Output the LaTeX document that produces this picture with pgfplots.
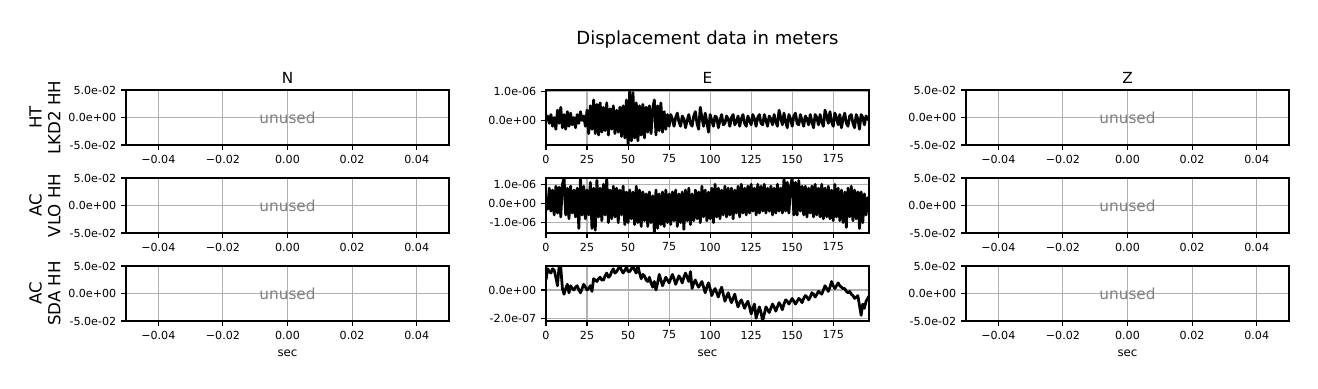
\documentclass[border=0pt]{standalone}
\usepackage{pgfplots}
\pgfplotsset{compat=1.18}
\usepackage{pgfplotstable}
\usepackage{fontspec}
\setmainfont{DejaVu Sans}
\definecolor{gridgray}{RGB}{176,176,176}
\definecolor{unusedgray}{RGB}{128,128,128}

% Row 1, E component (units of 1e-6 m)
\pgfplotstableread[row sep=\\]{
t v\\
0 0.0\\ 1 0.15\\ 2 -0.1\\ 3 0.2\\ 4 -0.2\\ 5 0.1\\ 6 -0.3\\ 7 0.35\\ 8 -0.1\\ 9 0.45\\
10 -0.25\\ 11 0.2\\ 12 -0.3\\ 13 0.3\\ 14 -0.2\\ 15 0.25\\ 16 -0.15\\ 17 0.1\\ 18 -0.25\\ 19 0.2\\
20 -0.1\\ 21 0.3\\ 22 0.0\\ 23 0.15\\ 24 -0.2\\ 25 0.35\\ 26 -0.45\\ 27 0.5\\ 28 -0.3\\ 29 0.7\\
30 -0.45\\ 31 0.55\\ 32 -0.5\\ 33 0.6\\ 34 -0.4\\ 35 0.45\\ 36 -0.35\\ 37 0.6\\ 38 -0.5\\ 39 0.4\\
40 -0.3\\ 41 0.5\\ 42 -0.45\\ 43 0.35\\ 44 -0.4\\ 45 0.45\\ 46 -0.55\\ 47 0.5\\ 48 -0.6\\ 49 0.7\\
50 -0.84\\ 51 1.04\\ 52 -0.7\\ 53 0.95\\ 54 -0.6\\ 55 0.6\\ 56 -0.7\\ 57 0.5\\ 58 -0.5\\ 59 0.55\\
60 -0.6\\ 61 0.45\\ 62 -0.4\\ 63 0.5\\ 64 -0.45\\ 65 0.4\\ 66 0.7\\ 67 -0.5\\ 68 0.5\\ 69 -0.35\\
70 0.6\\ 71 -0.4\\ 72 0.3\\ 73 -0.3\\ 74 0.2\\ 75 -0.2\\ 76 0.2\\ 77 0.05\\ 78 -0.2\\ 79 0.1\\
80 0.25\\ 81 -0.05\\ 82 -0.2\\ 83 0.15\\ 84 0.05\\ 85 -0.25\\ 86 0.0\\ 87 0.2\\ 88 -0.1\\ 89 -0.2\\
90 0.15\\ 91 0.3\\ 92 -0.1\\ 93 -0.3\\ 94 0.45\\ 95 0.1\\ 96 -0.2\\ 97 0.25\\ 98 -0.05\\ 99 -0.4\\
100 0.2\\ 101 0.0\\ 102 -0.2\\ 103 0.15\\ 104 0.1\\ 105 -0.25\\ 106 0.0\\ 107 0.2\\ 108 -0.15\\ 109 -0.1\\
110 0.15\\ 111 0.05\\ 112 -0.2\\ 113 0.1\\ 114 0.2\\ 115 -0.15\\ 116 -0.05\\ 117 0.15\\ 118 -0.2\\ 119 0.05\\
120 0.2\\ 121 -0.1\\ 122 -0.2\\ 123 0.15\\ 124 0.0\\ 125 -0.15\\ 126 0.2\\ 127 0.05\\ 128 -0.2\\ 129 0.1\\
130 0.2\\ 131 -0.1\\ 132 -0.15\\ 133 0.2\\ 134 0.0\\ 135 -0.2\\ 136 0.15\\ 137 0.05\\ 138 -0.15\\ 139 0.2\\
140 -0.05\\ 141 -0.2\\ 142 0.35\\ 143 0.1\\ 144 -0.15\\ 145 0.25\\ 146 -0.05\\ 147 -0.25\\ 148 0.2\\ 149 0.05\\
150 -0.2\\ 151 0.15\\ 152 0.25\\ 153 -0.1\\ 154 -0.15\\ 155 0.2\\ 156 0.0\\ 157 -0.2\\ 158 0.15\\ 159 0.05\\
160 -0.15\\ 161 0.2\\ 162 -0.05\\ 163 -0.25\\ 164 0.2\\ 165 0.1\\ 166 -0.15\\ 167 0.2\\ 168 -0.05\\ 169 -0.2\\
170 0.35\\ 171 0.15\\ 172 -0.1\\ 173 0.3\\ 174 -0.05\\ 175 -0.2\\ 176 0.25\\ 177 0.1\\ 178 -0.15\\ 179 0.2\\
180 -0.25\\ 181 0.05\\ 182 0.25\\ 183 -0.1\\ 184 -0.2\\ 185 0.15\\ 186 0.2\\ 187 -0.1\\ 188 -0.25\\ 189 0.2\\
190 0.05\\ 191 -0.3\\ 192 0.2\\ 193 0.1\\ 194 -0.15\\ 195 0.15\\ 196 0.05\\ 197 0.0\\
}\rowone

% Row 2, E component (units of 1e-6 m)
\pgfplotstableread[row sep=\\]{
t v\\
0 0.3\\ 1 -0.3\\ 2 0.8\\ 3 -0.4\\ 4 0.7\\ 5 -0.6\\ 6 0.9\\ 7 -0.5\\ 8 0.85\\ 9 -0.7\\
10 1.0\\ 11 1.33\\ 12 -0.6\\ 13 0.8\\ 14 -0.8\\ 15 0.9\\ 16 -0.5\\ 17 0.7\\ 18 -0.7\\ 19 0.8\\
20 -1.3\\ 21 1.3\\ 22 -0.6\\ 23 0.9\\ 24 -0.8\\ 25 0.7\\ 26 -0.6\\ 27 1.1\\ 28 -1.3\\ 29 0.8\\
30 -1.4\\ 31 1.2\\ 32 -0.7\\ 33 0.8\\ 34 -0.9\\ 35 1.0\\ 36 -0.6\\ 37 1.33\\ 38 -1.0\\ 39 0.7\\
40 -0.8\\ 41 0.9\\ 42 -0.7\\ 43 0.8\\ 44 -1.0\\ 45 0.7\\ 46 -0.6\\ 47 0.9\\ 48 -1.1\\ 49 0.6\\
50 -1.0\\ 51 0.7\\ 52 -0.8\\ 53 0.6\\ 54 -1.1\\ 55 0.9\\ 56 -1.0\\ 57 0.7\\ 58 -1.2\\ 59 0.6\\
60 -0.9\\ 61 0.5\\ 62 -1.2\\ 63 0.6\\ 64 -1.0\\ 65 0.4\\ 66 -1.54\\ 67 0.7\\ 68 -1.3\\ 69 0.5\\
70 -1.1\\ 71 0.6\\ 72 -1.2\\ 73 0.7\\ 74 -1.0\\ 75 0.5\\ 76 -1.1\\ 77 0.6\\ 78 -0.9\\ 79 0.7\\
80 -1.2\\ 81 0.5\\ 82 -1.0\\ 83 0.6\\ 84 -1.35\\ 85 0.7\\ 86 -0.9\\ 87 0.8\\ 88 -1.1\\ 89 0.5\\
90 -0.9\\ 91 0.7\\ 92 -0.8\\ 93 0.6\\ 94 -1.0\\ 95 0.9\\ 96 -0.7\\ 97 0.7\\ 98 -0.9\\ 99 0.6\\
100 -0.8\\ 101 0.8\\ 102 -1.0\\ 103 1.0\\ 104 -0.7\\ 105 0.8\\ 106 -0.8\\ 107 0.7\\ 108 -0.6\\ 109 0.9\\
110 -0.7\\ 111 0.8\\ 112 -0.6\\ 113 0.8\\ 114 -0.8\\ 115 0.7\\ 116 -0.5\\ 117 0.9\\ 118 -0.7\\ 119 1.0\\
120 -0.5\\ 121 0.8\\ 122 -0.6\\ 123 0.9\\ 124 -0.5\\ 125 1.0\\ 126 -0.4\\ 127 0.8\\ 128 -0.6\\ 129 1.0\\
130 -0.5\\ 131 0.9\\ 132 -0.4\\ 133 1.0\\ 134 -0.5\\ 135 0.8\\ 136 -0.4\\ 137 0.9\\ 138 -0.6\\ 139 0.8\\
140 -0.5\\ 141 1.0\\ 142 -0.4\\ 143 0.8\\ 144 -0.5\\ 145 1.33\\ 146 -0.4\\ 147 1.1\\ 148 -0.5\\ 149 0.9\\
150 1.33\\ 151 -0.6\\ 152 1.1\\ 153 -0.6\\ 154 1.2\\ 155 -0.4\\ 156 0.9\\ 157 -0.6\\ 158 0.9\\ 159 -0.7\\
160 0.8\\ 161 -0.5\\ 162 0.9\\ 163 -0.7\\ 164 1.0\\ 165 -0.6\\ 166 0.8\\ 167 -0.7\\ 168 1.0\\ 169 -0.8\\
170 0.8\\ 171 -0.7\\ 172 0.9\\ 173 -0.8\\ 174 0.7\\ 175 -0.9\\ 176 1.0\\ 177 -0.7\\ 178 0.8\\ 179 -0.9\\
180 0.7\\ 181 -1.0\\ 182 0.6\\ 183 -1.25\\ 184 0.8\\ 185 -0.7\\ 186 0.9\\ 187 -0.9\\ 188 0.7\\ 189 -0.8\\
190 0.6\\ 191 -1.3\\ 192 0.6\\ 193 -1.0\\ 194 0.5\\ 195 -0.6\\ 196 0.3\\ 197 -0.2\\
}\rowtwo

% Row 3, E component (units of 1e-7 m)
\pgfplotstableread[row sep=\\]{
t v\\
0 0.7\\ 1 1.5\\ 2 1.3\\ 3 1.2\\ 4 1.5\\ 5 1.4\\ 6 0.9\\ 7 0.3\\ 8 1.7\\ 9 1.6\\
10 0.1\\ 11 -0.3\\ 12 0.1\\ 13 0.4\\ 14 -0.2\\ 15 0.3\\ 16 0.1\\ 17 0.0\\ 18 0.2\\ 19 0.3\\
20 0.0\\ 21 -0.2\\ 22 0.1\\ 23 0.4\\ 24 0.2\\ 25 0.0\\ 26 0.1\\ 27 0.3\\ 28 -0.1\\ 29 0.8\\
30 0.7\\ 31 0.6\\ 32 0.8\\ 33 0.9\\ 34 0.7\\ 35 0.7\\ 36 1.0\\ 37 1.2\\ 38 0.9\\ 39 1.0\\
40 1.3\\ 41 1.5\\ 42 1.2\\ 43 1.3\\ 44 1.5\\ 45 1.7\\ 46 1.4\\ 47 1.2\\ 48 1.4\\ 49 1.6\\
50 1.3\\ 51 1.3\\ 52 1.5\\ 53 1.7\\ 54 1.4\\ 55 1.2\\ 56 1.7\\ 57 1.2\\ 58 0.8\\ 59 1.1\\
60 1.0\\ 61 0.7\\ 62 0.6\\ 63 0.9\\ 64 0.5\\ 65 0.2\\ 66 0.6\\ 67 0.0\\ 68 0.5\\ 69 1.1\\
70 0.7\\ 71 0.3\\ 72 0.6\\ 73 0.9\\ 74 0.7\\ 75 0.5\\ 76 0.8\\ 77 1.1\\ 78 0.8\\ 79 0.4\\
80 0.7\\ 81 1.0\\ 82 0.8\\ 83 0.5\\ 84 0.9\\ 85 1.2\\ 86 0.9\\ 87 0.6\\ 88 1.3\\ 89 0.1\\
90 0.5\\ 91 0.7\\ 92 0.4\\ 93 0.2\\ 94 0.4\\ 95 0.6\\ 96 0.2\\ 97 -0.2\\ 98 0.2\\ 99 0.5\\
100 0.1\\ 101 -0.4\\ 102 -0.1\\ 103 0.1\\ 104 -0.2\\ 105 -0.5\\ 106 -0.1\\ 107 0.2\\ 108 -0.3\\ 109 -0.8\\
110 -0.5\\ 111 -0.2\\ 112 -0.6\\ 113 -0.9\\ 114 -0.6\\ 115 -0.3\\ 116 -0.8\\ 117 -1.2\\ 118 -0.9\\ 119 -0.7\\
120 -1.0\\ 121 -1.3\\ 122 -1.0\\ 123 -0.8\\ 124 -1.2\\ 125 -1.7\\ 126 -1.3\\ 127 -1.0\\ 128 -2.0\\ 129 -1.6\\
130 -1.2\\ 131 -1.6\\ 132 -2.2\\ 133 -1.7\\ 134 -1.2\\ 135 -1.4\\ 136 -1.6\\ 137 -1.3\\ 138 -1.0\\ 139 -1.2\\
140 -1.5\\ 141 -1.2\\ 142 -0.9\\ 143 -1.1\\ 144 -1.4\\ 145 -1.0\\ 146 -0.7\\ 147 -0.8\\ 148 -1.0\\ 149 -0.8\\
150 -0.6\\ 151 -0.8\\ 152 -1.0\\ 153 -0.8\\ 154 -0.6\\ 155 -0.7\\ 156 -0.9\\ 157 -0.6\\ 158 -0.4\\ 159 -0.5\\
160 -0.7\\ 161 -0.5\\ 162 -0.2\\ 163 -0.3\\ 164 -0.5\\ 165 -0.3\\ 166 -0.1\\ 167 -0.2\\ 168 -0.3\\ 169 0.0\\
170 0.3\\ 171 0.1\\ 172 -0.1\\ 173 0.2\\ 174 0.6\\ 175 0.3\\ 176 0.1\\ 177 0.3\\ 178 0.5\\ 179 0.3\\
180 0.2\\ 181 0.1\\ 182 0.1\\ 183 -0.1\\ 184 -0.2\\ 185 -0.1\\ 186 -0.3\\ 187 -0.4\\ 188 -0.6\\ 189 -0.5\\
190 -0.4\\ 191 -1.1\\ 192 -1.8\\ 193 -1.0\\ 194 -1.3\\ 195 -0.8\\ 196 -0.6\\ 197 -0.4\\
}\rowthree

\pgfplotsset{
  base/.style={
    scale only axis, width=232.56pt, height=39.6pt, anchor=south west,
    axis line style={line width=0.8pt, black},
    grid=major, grid style={line width=0.8pt, color=gridgray},
    tick align=outside, major tick length=3.5pt, tick pos=left,
    every tick/.style={black, line width=0.8pt},
    tick label style={font=\fontsize{8}{9.6}\selectfont},
    scaled ticks=false,
  },
  unused/.style={
    base,
    xmin=-0.05, xmax=0.05, ymin=-0.05, ymax=0.05,
    xtick={-0.04,-0.02,0,0.02,0.04},
    xticklabels={−0.04,−0.02,0.00,0.02,0.04},
    ytick={-0.05,0,0.05},
    yticklabels={-5.0e-02,0.0e+00,5.0e-02},
  },
  trace/.style={
    base,
    xmin=0, xmax=196.8,
    xtick={0,25,50,75,100,125,150,175},
    xticklabels={0,25,50,75,100,125,150,175},
  },
  tr/.style={black, line width=2pt, line join=round, no marks},
}

\newcommand{\unusedtext}{\node[unusedgray, font=\fontsize{11}{13}\selectfont] at (axis cs:0,0) {unused};}

\begin{document}
\begin{tikzpicture}
\path[use as bounding box] (0,0) rectangle (948.96pt,280.08pt);

% Suptitle
\node[font=\fontsize{13}{15}\selectfont, anchor=base] at (509.4pt,248pt) {Displacement data in meters};
% Column titles
\node[font=\fontsize{11}{13}\selectfont, anchor=base] at (207pt,220.3pt) {N};
\node[font=\fontsize{11}{13}\selectfont, anchor=base] at (509.4pt,220.3pt) {E};
\node[font=\fontsize{11}{13}\selectfont, anchor=base] at (811.8pt,220.3pt) {Z};
% Row labels
\node[rotate=90, align=center, font=\fontsize{12}{13.5}\selectfont] at (32.4pt,195.48pt) {HT\\LKD2 HH};
\node[rotate=90, align=center, font=\fontsize{12}{13.5}\selectfont] at (32.4pt,132.12pt) {AC\\VLO HH};
\node[rotate=90, align=center, font=\fontsize{12}{13.5}\selectfont] at (32.4pt,68.76pt) {AC\\SDA HH};
% x labels
\node[font=\fontsize{8.5}{10}\selectfont] at (207pt,25.92pt) {sec};
\node[font=\fontsize{8.5}{10}\selectfont] at (509.4pt,25.92pt) {sec};
\node[font=\fontsize{8.5}{10}\selectfont] at (811.8pt,25.92pt) {sec};

% Row 1
\begin{axis}[unused, at={(90.72pt,175.68pt)}]
\unusedtext
\end{axis}
\begin{axis}[trace, at={(393.12pt,175.68pt)}, ymin=-0.84, ymax=1.04,
  ytick={0,1}, yticklabels={0.0e+00,1.0e-06}]
\addplot[tr] table[x=t,y=v]{\rowone};
\end{axis}
\begin{axis}[unused, at={(695.52pt,175.68pt)}]
\unusedtext
\end{axis}

% Row 2
\begin{axis}[unused, at={(90.72pt,112.32pt)}]
\unusedtext
\end{axis}
\begin{axis}[trace, at={(393.12pt,112.32pt)}, ymin=-1.54, ymax=1.33,
  ytick={-1,0,1}, yticklabels={-1.0e-06,0.0e+00,1.0e-06}]
\addplot[tr] table[x=t,y=v]{\rowtwo};
\end{axis}
\begin{axis}[unused, at={(695.52pt,112.32pt)}]
\unusedtext
\end{axis}

% Row 3
\begin{axis}[unused, at={(90.72pt,48.96pt)}]
\unusedtext
\end{axis}
\begin{axis}[trace, at={(393.12pt,48.96pt)}, ymin=-2.2, ymax=1.7,
  ytick={-2,0}, yticklabels={-2.0e-07,0.0e+00}]
\addplot[tr] table[x=t,y=v]{\rowthree};
\end{axis}
\begin{axis}[unused, at={(695.52pt,48.96pt)}]
\unusedtext
\end{axis}
\end{tikzpicture}
\end{document}
